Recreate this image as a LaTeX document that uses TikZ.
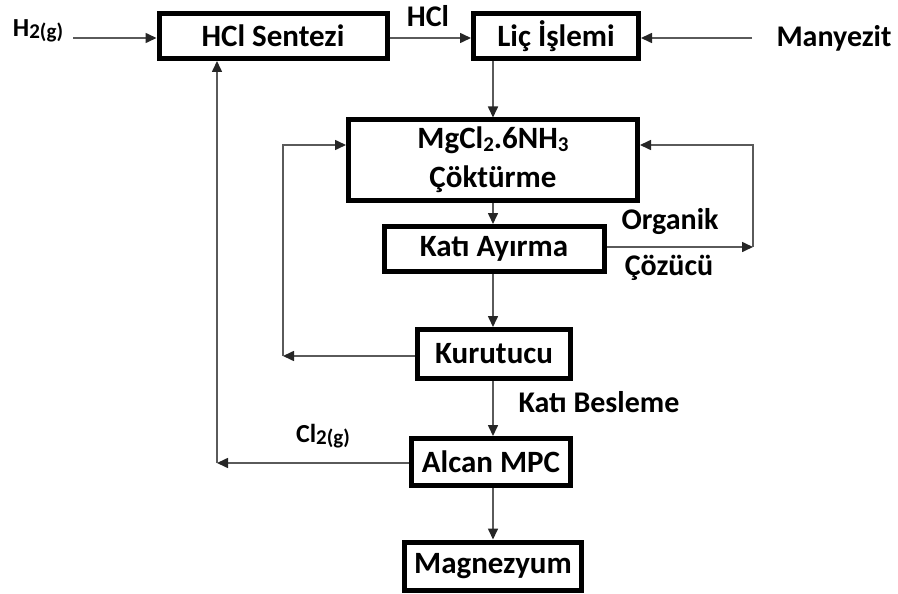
\documentclass[tikz,border=0pt]{standalone}
\usepackage{fontspec}
\setmainfont{Carlito}
\usetikzlibrary{arrows.meta}
\definecolor{linegray}{HTML}{5A5A5A}
\definecolor{tipgray}{HTML}{262626}
\newcommand{\lowtxt}[1]{\raisebox{-0.1em}{\fontsize{21}{21}\selectfont #1}}
\tikzset{
  procbox/.style={draw=black, line width=5pt, fill=white, inner sep=0pt,
    font=\bfseries\fontsize{31}{36}\selectfont, align=center},
  lbl/.style={inner sep=0pt, font=\bfseries\fontsize{30}{34}\selectfont, align=center},
  gaslbl/.style={lbl, font=\bfseries\fontsize{26}{30}\selectfont},
  flow/.style={draw=linegray, line width=1.6pt,
    -{Triangle[length=11pt,width=10pt,fill=tipgray,color=tipgray]}},
}
\begin{document}
\begin{tikzpicture}[x=1pt,y=-1pt]
\useasboundingbox (0,0) rectangle (898,594);

% process boxes
\node[procbox, minimum width=228pt, minimum height=45pt] (hcl) at (273,36) {HCl Sentezi};
\node[procbox, minimum width=165pt, minimum height=45pt] (lic) at (556,36) {Liç İşlemi};
\node[procbox, minimum width=289pt, minimum height=80pt] (mg) at (493,160)
  {MgCl\lowtxt{2}.6NH\lowtxt{3}\\[3pt]Çöktürme};
\node[procbox, minimum width=220pt, minimum height=45pt] (kati) at (494,249) {Katı Ayırma};
\node[procbox, minimum width=153pt, minimum height=49pt] (kur) at (494,354) {Kurutucu};
\node[procbox, minimum width=159pt, minimum height=47pt] (alcan) at (491,462) {Alcan MPC};
\node[procbox, minimum width=177pt, minimum height=48pt] (mag) at (493,566) {Magnezyum};

% stream labels
\node[gaslbl] (h2) at (38,31) {H\lowtxt{2(g)}};
\node[lbl] (hcllbl) at (428,16) {HCl};
\node[lbl] (mny) at (834,38) {Manyezit};
\node[lbl] (org) at (670,222) {Organik};
\node[lbl] (coz) at (669,268) {Çözücü};
\node[lbl] (besle) at (599,402) {Katı Besleme};
\node[gaslbl] (cl2) at (323,436) {Cl\lowtxt{2(g)}};

% loop and junction points
\coordinate (h2e) at (73,38);
\coordinate (mze) at (752,38);
\coordinate (lp) at (283,356);
\coordinate (lt) at (283,145);
\coordinate (rp) at (753,247);
\coordinate (rt) at (753,145);
\coordinate (cp) at (217,463);
\coordinate (cx) at (217,0);

% feeds into the top row
\draw[flow] (h2e) -- (h2e -| hcl.west);
\draw[flow] ([yshift=-2pt]hcl.east) -- ([yshift=-2pt]lic.west);
\draw[flow] (mze) -- (mze -| lic.east);

% main vertical train
\draw[flow] (mg.north |- lic.south) -- (mg.north);
\draw[flow] (mg.south) -- (mg.south |- kati.north);
\draw[flow] (mg.south |- kati.south) -- (mg.south |- kur.north);
\draw[flow] (mg.south |- kur.south) -- (mg.south |- alcan.north);
\draw[flow] (mg.south |- alcan.south) -- (mg.south |- mag.north);

% recycle from the dryer
\draw[flow] (kur.west |- lp) -- (lp);
\draw[flow] (lp) -- (lt) -- (lt -| mg.west);

% organic solvent recycle
\draw[flow] (kati.east |- rp) -- (rp);
\draw[flow] (rp) -- (rt) -- (rt -| mg.east);

% chlorine back to HCl synthesis
\draw[flow] (alcan.west |- cp) -- (cp);
\draw[flow] (cp) -- (cx |- hcl.south);
\end{tikzpicture}
\end{document}
